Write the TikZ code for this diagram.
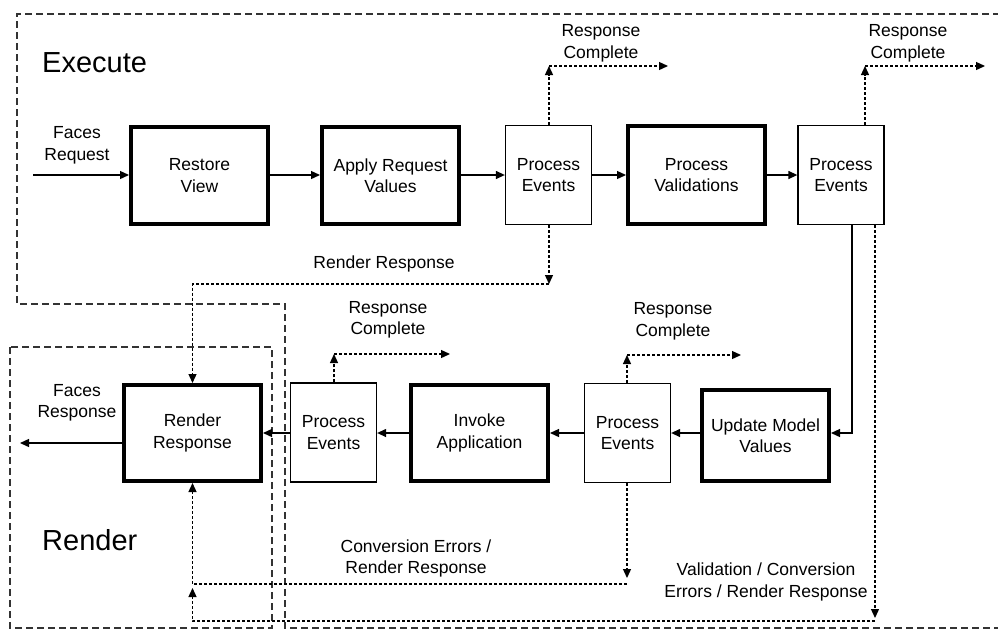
\documentclass[tikz,border=0pt]{standalone}
\usepackage{fontspec}
\setmainfont{Liberation Sans}
\usetikzlibrary{arrows.meta}
\begin{document}
\begin{tikzpicture}[x=1pt,y=-1pt,font=\fontsize{17.5}{21.5}\selectfont,
    phase/.style={draw,line width=4pt,align=center,inner sep=0pt},
    events/.style={draw,line width=1.3pt,minimum width=86pt,minimum height=99pt,
        align=center,inner sep=0pt},
    flow/.style={line width=1.3pt,-{Triangle[length=9pt,width=8pt]}},
    resp/.style={flow,dash pattern=on 3pt off 2pt},
    region/.style={draw=black!80,line width=1.2pt,dash pattern=on 7pt off 4pt},
    lbl/.style={align=center,inner sep=0pt},
    big/.style={font=\fontsize{29}{34}\selectfont,inner sep=0pt,anchor=west}]
    \useasboundingbox (0,0) rectangle (998,630);
    \draw[region] (1000,14) -- (17,14) -- (17,304) -- (285,304) -- (285,628) -- (1000,628);
    \draw[region] (10,347) rectangle (272,628);
    \node[big] (ext) at (42,63) {Execute};
    \node[big] (rdt) at (42,540) {Render};
    \foreach \N/\X/\Y/\W/\H/\T in
        {rv/199.5/175.5/137/97/{Restore\\View},
        arv/390.5/175.5/137/97/{Apply Request\\Values},
        pv/696.5/175/137/98/{Process\\Validations},
        rr/192.5/433/137/96/{Render\\Response},
        ia/479.5/433/137/96/{Invoke\\Application},
        umv/765.5/435.5/127/91/{Update Model\\Values}}
        \node[phase,minimum width=\W pt,minimum height=\H pt] (\N) at (\X,\Y) {\T};
    \foreach \N/\X/\Y in {pe1/548.5/175,pe2/841/175,pe3/627.5/433,pe4/333.5/432.5}
        \node[events] (\N) at (\X,\Y) {Process\\Events};
    \coordinate (fin) at (33,175);
    \coordinate (fout) at (20,443);
    \draw[flow] (fin) -- (fin -| rv.west);
    \foreach \A/\B in {rv/arv,arv/pe1,pe1/pv,pv/pe2}
        \draw[flow] (\A.east |- 0,175) -- (\B.west |- 0,175);
    \foreach \A/\B in {umv/pe3,pe3/ia,ia/pe4,pe4/rr}
        \draw[flow] (\A.west |- 0,433) -- (\B.east |- 0,433);
    \draw[flow] ([xshift=11pt]pe2.south) |- (umv.east |- 0,433);
    \draw[flow] (rr.west |- fout) -- (fout);
    \node[lbl] (freq) at (77,145.5) {Faces\\Request};
    \node[lbl] (fres) at (77,403) {Faces\\Response};
    \foreach \N/\S/\X/\Y/\E/\TX/\TY in
        {1/pe1/549/66/668/601/43.5,
        2/pe2/865/66/985/908/43.5,
        3/pe4/334/354/450/388/320,
        4/pe3/627/355/741/673/321.5}
        {\coordinate (rc\N) at (\X,\Y);
        \coordinate (rc\N e) at (\E,\Y);
        \draw[resp] (\S.north -| rc\N) -- (rc\N);
        \draw[resp] (rc\N) -- (rc\N e);
        \node[lbl] (rct\N) at (\TX,\TY) {Response\\Complete};}
    \coordinate (rr1) at (549,284);
    \draw[resp] (pe1.south -| rr1) -- (rr1);
    \draw[resp] (rr1) -| (rr.north);
    \node[lbl] (rrt) at (384,264) {Render Response};
    \coordinate (ce1) at (627,578);
    \coordinate (ce2) at (627,584);
    \draw[resp] (pe3.south -| ce1) -- (ce1);
    \draw[resp] (ce2) -| (rr.south);
    \node[lbl] (cet) at (416,558.5) {Conversion Errors /\\Render Response};
    \coordinate (vc1) at (875,618);
    \coordinate (vc2) at (875,621);
    \coordinate (vc3) at (192.5,588);
    \draw[resp] (pe2.south -| vc1) -- (vc1);
    \draw[resp] (vc2) -| (vc3);
    \node[lbl] (vct) at (766,582) {Validation / Conversion\\Errors / Render Response};
\end{tikzpicture}
\end{document}
